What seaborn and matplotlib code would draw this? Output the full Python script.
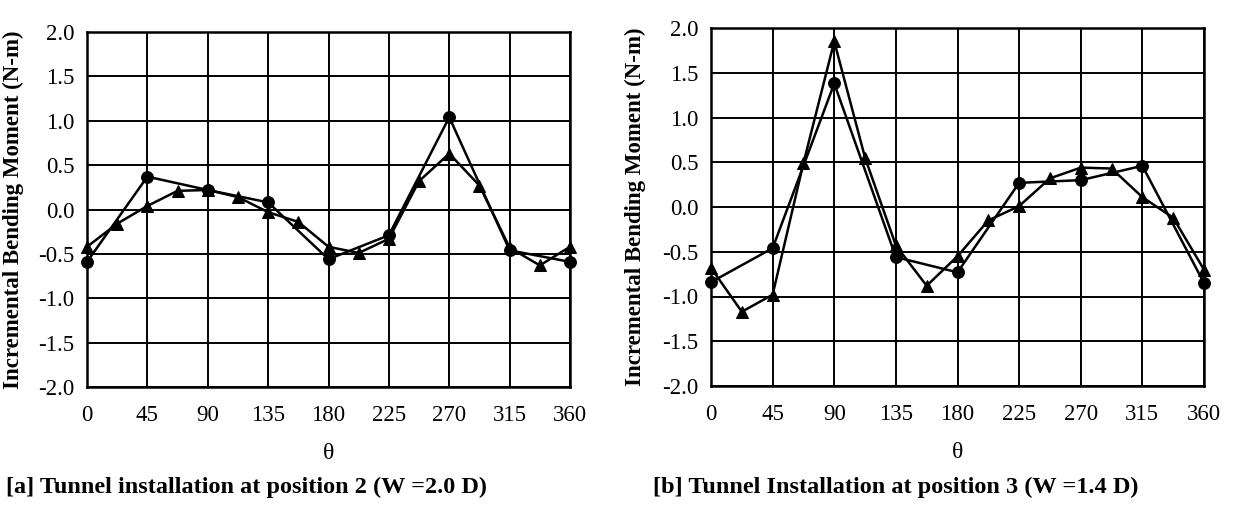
import matplotlib
matplotlib.use("Agg")
import matplotlib.pyplot as plt
import seaborn as sns
import pandas as pd

sns.set_theme(style="white")
plt.rcParams['font.family'] = ['Liberation Serif', 'DejaVu Serif']

theta_45 = [0, 45, 90, 135, 180, 225, 270, 315, 360]
theta_22 = [0, 22.5, 45, 67.5, 90, 112.5, 135, 157.5, 180, 202.5, 225,
            247.5, 270, 292.5, 315, 337.5, 360]

# Panel [a]
a_circle = [-0.59, 0.37, 0.22, 0.08, -0.56, -0.29, 1.04, -0.46, -0.59]
a_triangle = [-0.42, -0.16, 0.04, 0.21, 0.22, 0.14, -0.03, -0.14, -0.42,
              -0.49, -0.33, 0.32, 0.63, 0.27, -0.43, -0.63, -0.42]

# Panel [b]
b_circle = [-0.84, -0.46, 1.38, -0.56, -0.73, 0.27, 0.30, 0.46, -0.85]
b_triangle = [-0.68, -1.17, -0.98, 0.49, 1.85, 0.55, -0.43, -0.88, -0.55,
              -0.15, 0.01, 0.32, 0.44, 0.43, 0.11, -0.12, -0.70]

x_ticks = [0, 45, 90, 135, 180, 225, 270, 315, 360]
y_ticks = [-2.0, -1.5, -1.0, -0.5, 0.0, 0.5, 1.0, 1.5, 2.0]
y_ticklabels = ["-2.0", "-1.5", "-1.0", "-0.5", "0.0", "0.5", "1.0", "1.5", "2.0"]

ylabel = "Incremental Bending Moment (N-m)"
xlabel = "\u03b8"
captions = ["[a] Tunnel installation at position 2 (W =2.0 D)",
            "[b] Tunnel Installation at position 3 (W =1.4 D)"]

W, H = 1238, 505
fig = plt.figure(figsize=(W / 100, H / 100), dpi=100)

boxes = [(87, 32, 570, 387), (711, 28, 1204, 386)]
panels = [(a_circle, a_triangle), (b_circle, b_triangle)]
caption_x = [246, 896]
ylabel_right_edge = [24, 646]

for (l, t, r, b), (circ, tri), cap, cx, yl in zip(boxes, panels, captions, caption_x, ylabel_right_edge):
    ax = fig.add_axes([l / W, 1 - b / H, (r - l) / W, (b - t) / H])
    df_c = pd.DataFrame({"theta": theta_45, "M": circ})
    df_t = pd.DataFrame({"theta": theta_22, "M": tri})
    sns.lineplot(data=df_c, x="theta", y="M", ax=ax, color="black", lw=1.8,
                 marker="o", markersize=8.5, markeredgecolor="black", clip_on=False, zorder=5)
    sns.lineplot(data=df_t, x="theta", y="M", ax=ax, color="black", lw=1.8,
                 marker="^", markersize=8, markeredgecolor="black", clip_on=False, zorder=5)
    ax.set_xlim(0, 360)
    ax.set_ylim(-2.0, 2.0)
    ax.set_xticks(x_ticks)
    ax.set_xticklabels([str(v) for v in x_ticks])
    ax.set_yticks(y_ticks)
    ax.set_yticklabels(y_ticklabels)
    ax.grid(True, color="black", lw=1.4)
    ax.set_axisbelow(True)
    for s in ax.spines.values():
        s.set_color("black")
        s.set_linewidth(1.8)
    ax.tick_params(axis="both", length=0, labelsize=16.5, colors="black")
    ax.tick_params(axis="x", pad=13)
    ax.tick_params(axis="y", pad=9)
    ax.set_xlabel(xlabel, fontsize=17, labelpad=12, color="black")
    ax.set_ylabel(ylabel, fontsize=16.5, fontweight="bold", color="black")
    ax.yaxis.set_label_coords((yl - l) / (r - l), 0.5)
    fig.text(cx / W, 1 - 487 / H, cap, ha="center", va="center",
             fontsize=17.5, fontweight="bold", color="black")

fig.savefig("out.png", dpi=100, facecolor="white")
